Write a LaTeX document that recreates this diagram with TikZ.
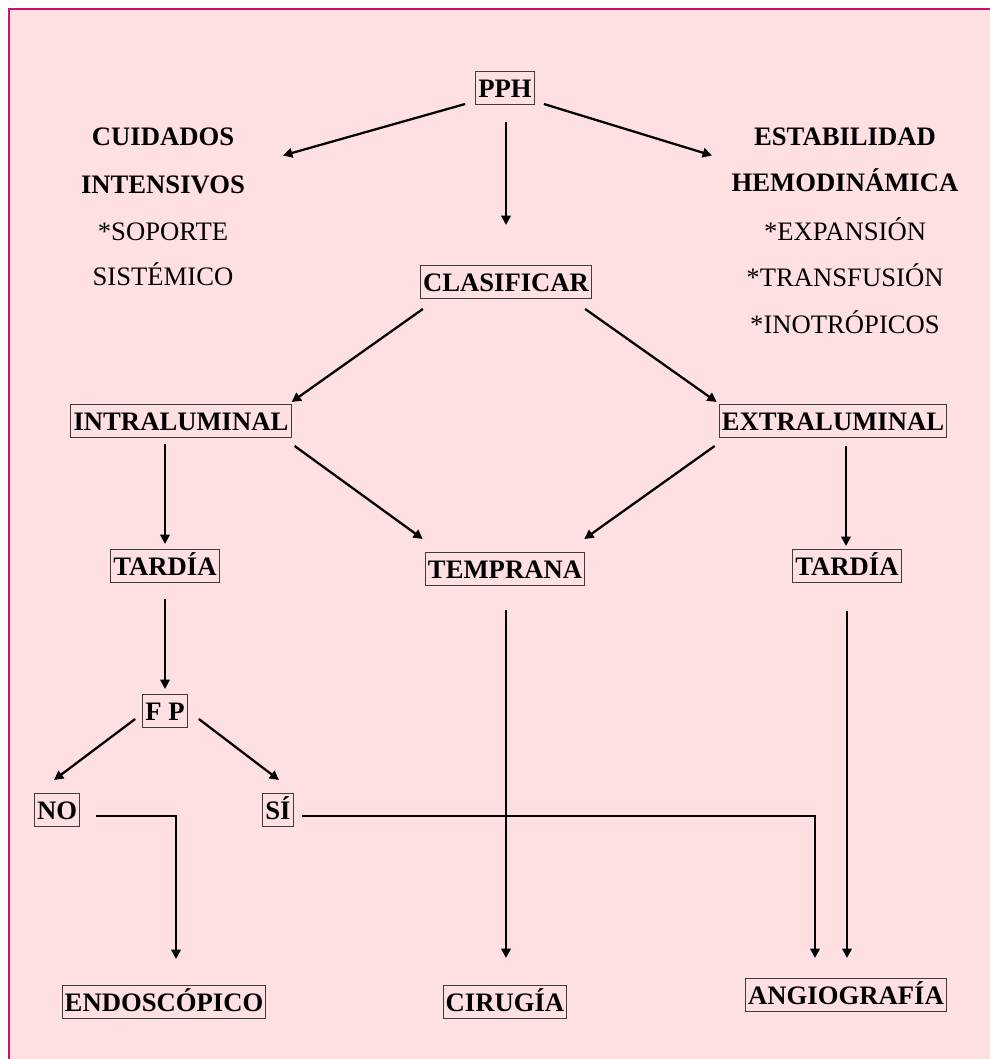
\documentclass[tikz,border=0pt]{standalone}
\usepackage{fontspec}
\setmainfont{Liberation Serif}
\usetikzlibrary{arrows.meta,calc}
\definecolor{bgpink}{RGB}{255,224,226}
\definecolor{framec}{RGB}{208,16,112}
\definecolor{boxgray}{RGB}{60,60,60}
\begin{document}
\begin{tikzpicture}[x=0.75pt,y=-0.75pt,
  bx/.style={draw=boxgray,line width=0.8pt,inner xsep=2pt,inner ysep=2.1pt,text height=17.5pt,text depth=3pt,font=\fontsize{20}{24}\selectfont\bfseries},
  tb/.style={anchor=base,inner sep=0pt,font=\fontsize{20}{24}\selectfont\bfseries},
  tn/.style={anchor=base,inner sep=0pt,font=\fontsize{20}{24}\selectfont},
  arr/.style={line width=1.7pt,-{Triangle[length=7pt,width=7pt]}}]
\useasboundingbox (0,0) rectangle (989,1059);
\fill[white] (0,0) rectangle (989,1059);
\fill[bgpink] (9,9) rectangle (995,1065);
\draw[framec,line width=2.2pt] (9,1065) -- (9,9) -- (995,9);

% boxed nodes
\node[bx] (pph) at (505,88) {PPH};
\node[bx] (clas) at (506,282) {CLASIFICAR};
\node[bx] (intra) at (181,421) {INTRALUMINAL};
\node[bx] (extra) at (833,421) {EXTRALUMINAL};
\node[bx] (tardL) at (165,566) {TARDÍA};
\node[bx] (temp) at (505,569) {TEMPRANA};
\node[bx] (tardR) at (847,566) {TARDÍA};
\node[bx] (fp) at (165,711) {F P};
\node[bx] (no) at (57,810) {NO};
\node[bx] (si) at (278,810) {SÍ};
\node[bx] (endo) at (164,1002) {ENDOSCÓPICO};
\node[bx] (ciru) at (505,1002) {CIRUGÍA};
\node[bx] (angio) at (846,995) {ANGIOGRAFÍA};

% text nodes
\node[tb] (cuid1) at (163,145.5) {CUIDADOS};
\node[tb] (cuid2) at (163,193.5) {INTENSIVOS};
\node[tn] (cuid3) at (163,240.5) {*SOPORTE};
\node[tn] (cuid4) at (163,285.5) {SISTÉMICO};
\node[tb] (est1) at (845,145.5) {ESTABILIDAD};
\node[tb] (est2) at (845,192) {HEMODINÁMICA};
\node[tn] (est3) at (845,240.5) {*EXPANSIÓN};
\node[tn] (est4) at (845,286.5) {*TRANSFUSIÓN};
\node[tn] (est5) at (845,333.5) {*INOTRÓPICOS};

% arrows
\draw[arr] ($(pph.south west)+(-10,-1)$) -- ($(cuid1.base)+(120,10)$);
\draw[arr] ($(pph.south east)+(9,-1)$) -- ($(est1.base)+(-133,10)$);
\draw[arr] ($(pph.south)+(1,17)$) -- ($(pph.south |- clas.north)+(1,-40)$);
\draw[arr] ($(clas.south west)+(3,10)$) -- ($(intra.north east)+(0,-2)$);
\draw[arr] ($(clas.south east)+(-7,10)$) -- ($(extra.north west)+(-2,-2)$);
\draw[arr] ($(intra.south east)+(3,8)$) -- ($(temp.north west)+(-2,-13)$);
\draw[arr] ($(extra.south west)+(-4,8)$) -- ($(temp.north east)+(-1,-13)$);
\draw[arr] ($(tardL.north |- intra.south)+(0,6)$) -- ($(tardL.north)+(0,-5)$);
\draw[arr] ($(tardR.north |- extra.south)+(-1,8)$) -- ($(tardR.north)+(-1,-3)$);
\draw[arr] ($(tardL.south)+(0,16)$) -- ($(fp.north)+(0,-5)$);
\draw[arr] ($(fp.south west)+(-7,-9)$) -- ($(no.north)+(-3,-13)$);
\draw[arr] ($(fp.south east)+(11,-9)$) -- ($(si.north)+(1,-13)$);
\draw[arr] ($(no.east)+(16,6)$) -| ($(endo.north)+(12,-26)$);
\draw[arr] ($(si.east)+(8,6)$) -| ($(angio.north)+(-31,-20)$);
\draw[arr] ($(temp.south)+(1,24)$) -- ($(temp.south |- ciru.north)+(1,-27)$);
\draw[arr] ($(tardR.south)+(0,28)$) -- ($(tardR.south |- angio.north)+(0,-20)$);
\end{tikzpicture}
\end{document}
